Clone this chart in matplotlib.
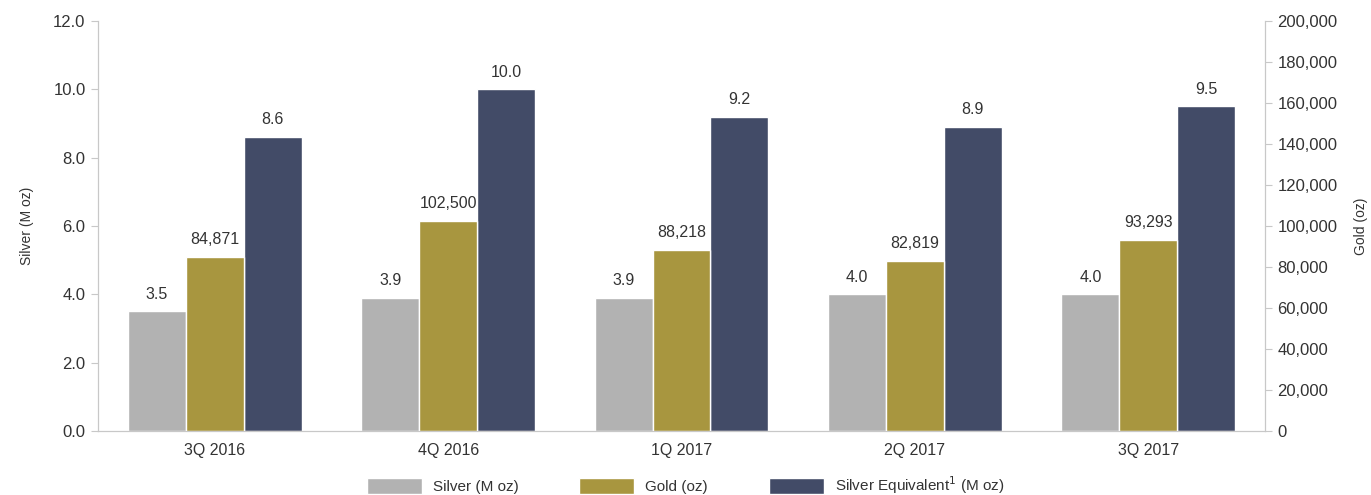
import matplotlib
matplotlib.use("Agg")
import matplotlib.pyplot as plt
import numpy as np
from matplotlib.ticker import FuncFormatter

categories = ["3Q 2016", "4Q 2016", "1Q 2017", "2Q 2017", "3Q 2017"]
silver = [3.5, 3.9, 3.9, 4.0, 4.0]
gold = [84871, 102500, 88218, 82819, 93293]
silver_eq = [8.6, 10.0, 9.2, 8.9, 9.5]

c_silver = "#b2b2b2"
c_gold = "#a8963f"
c_eq = "#424b67"
txt = "#333333"
axc = "#c8c8c8"

plt.rcParams['font.family'] = ['Liberation Sans', 'DejaVu Sans']

fig = plt.figure(figsize=(13.71, 4.95), dpi=100)
ax = fig.add_axes([0.0715, 0.1293, 0.8512, 0.8283])
ax2 = ax.twinx()

x = np.arange(len(categories))
w = 0.248

b1 = ax.bar(x - w, silver, w, color=c_silver, edgecolor="white", linewidth=1, label="Silver (M oz)")
b2 = ax2.bar(x, gold, w, color=c_gold, edgecolor="white", linewidth=1, label="Gold (oz)")
b3 = ax.bar(x + w, silver_eq, w, color=c_eq, edgecolor="white", linewidth=1, label="Silver Equivalent$^1$ (M oz)")

fs_lab = 11.5
for xi, v in zip(x, silver):
    ax.annotate(f"{v:.1f}", (xi - w, v), xytext=(0, 7), textcoords="offset points",
                ha="center", va="bottom", fontsize=fs_lab, color=txt)
for xi, v in zip(x, silver_eq):
    ax.annotate(f"{v:.1f}", (xi + w, v), xytext=(0, 7), textcoords="offset points",
                ha="center", va="bottom", fontsize=fs_lab, color=txt)
for xi, v in zip(x, gold):
    ax2.annotate(f"{v:,.0f}", (xi, v), xytext=(0, 7), textcoords="offset points",
                 ha="center", va="bottom", fontsize=fs_lab, color=txt)

ax.set_xlim(-0.5, len(categories) - 0.5)
ax.set_ylim(0, 12)
ax2.set_ylim(0, 200000)
ax.set_yticks(np.arange(0, 12.01, 2))
ax.yaxis.set_major_formatter(FuncFormatter(lambda v, p: f"{v:.1f}"))
ax2.set_yticks(np.arange(0, 200001, 20000))
ax2.yaxis.set_major_formatter(FuncFormatter(lambda v, p: f"{v:,.0f}"))
ax.set_xticks(x)
ax.set_xticklabels(categories)

for a in (ax, ax2):
    a.spines["top"].set_visible(False)
    for s in ("left", "right", "bottom"):
        a.spines[s].set_color(axc)
    a.tick_params(colors=axc, labelcolor=txt, labelsize=12, length=5)
ax.tick_params(axis="x", length=0, pad=9, labelsize=11.5)
ax.tick_params(axis="y", pad=4)
ax2.tick_params(axis="y", pad=4)

ax.set_ylabel("Silver (M oz)", fontsize=10, color=txt, labelpad=14)
ax2.set_ylabel("Gold (oz)", fontsize=10, color=txt, rotation=90, labelpad=12)

fig.legend(handles=[b1, b2, b3], loc="lower center", bbox_to_anchor=(0.5, -0.03), ncol=3,
           frameon=False, fontsize=11, handlelength=3.6, handleheight=1.3,
           columnspacing=4.0, handletextpad=0.7, labelcolor=txt)

fig.savefig("out.png", dpi=100)
